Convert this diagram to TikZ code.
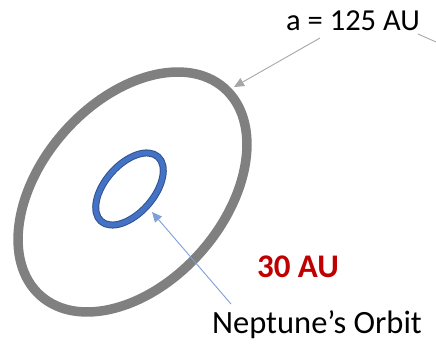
\documentclass[tikz,border=0pt]{standalone}
\usepackage{fontspec}
\setmainfont{Carlito}
\usetikzlibrary{arrows.meta}
\definecolor{ringgray}{HTML}{808080}
\definecolor{nepblue}{HTML}{4472C4}
\definecolor{nepdark}{HTML}{2F528F}
\definecolor{auread}{HTML}{C00000}
\definecolor{arrowgray}{HTML}{A6A6A6}
\definecolor{arrowblue}{HTML}{7F9FD8}
\tikzset{
  lbl/.style={inner sep=0pt, anchor=center},
  grayarrow/.style={draw=arrowgray, line width=0.9pt, -{Triangle[length=10pt,width=9pt]}},
  bluearrow/.style={draw=arrowblue, line width=0.9pt, -{Triangle[length=10pt,width=9pt]}},
}
\begin{document}
\begin{tikzpicture}[x=1pt,y=-1pt]
\useasboundingbox (0,0) rectangle (436,347);
% outer orbit
\draw[ringgray, line width=9.5pt, rotate around={48.4:(132.5,192)}] (132.5,192) ellipse [x radius=138.6, y radius=91];
% Neptune's orbit
\draw[nepdark, line width=7pt, rotate around={48.6:(129.5,189)}] (129.5,189) ellipse [x radius=43, y radius=24.3];
\draw[nepblue, line width=5pt, rotate around={48.6:(129.5,189)}] (129.5,189) ellipse [x radius=43, y radius=24.3];
% labels
\node[lbl, font=\fontsize{30.5}{30.5}\selectfont] (alabel) at (353,21) {a = 125 AU};
\node[lbl, font=\fontsize{33}{33}\selectfont\bfseries, text=auread] (au) at (298,267) {30 AU};
\node[lbl, font=\fontsize{32.5}{32.5}\selectfont] (nep) at (317,325) {Neptune’s Orbit};
% connector end points
\coordinate (outerhit) at (234,87);
\coordinate (innerhit) at (152,212);
\coordinate (astart) at (320,38);
\coordinate (nstart) at (231,304);
\coordinate (rstart) at (418,34);
\coordinate (redge) at (436,42);
\draw[grayarrow] (astart) -- (outerhit);
\draw[arrowgray, line width=0.9pt] (rstart) -- (redge);
\draw[bluearrow] (nstart) -- (innerhit);
\end{tikzpicture}
\end{document}
